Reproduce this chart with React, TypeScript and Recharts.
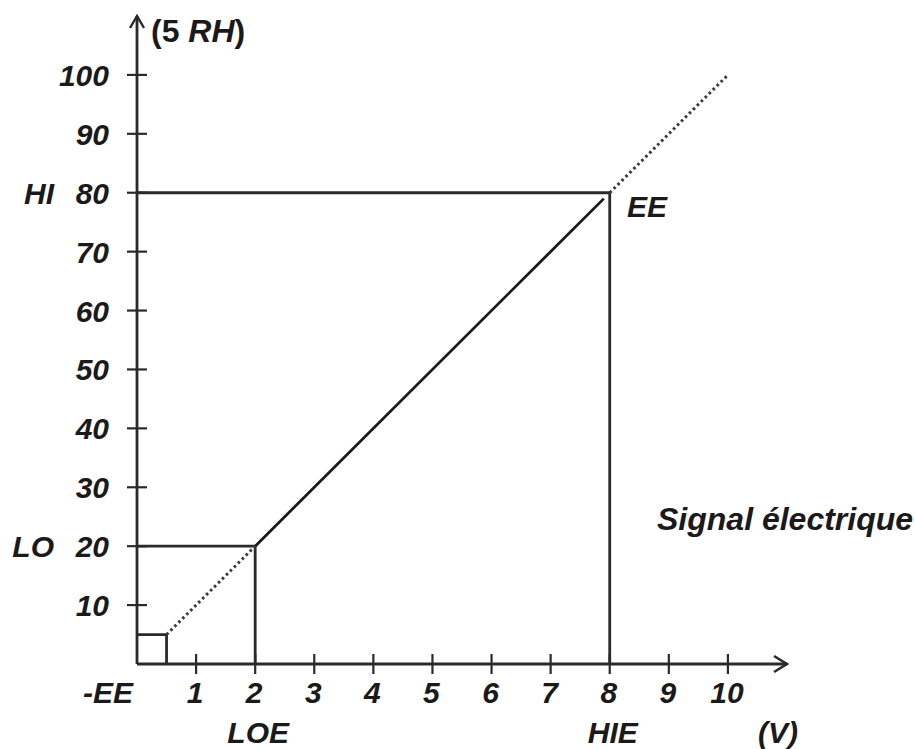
import React from 'react';
import { LineChart, Line, XAxis, YAxis } from 'recharts';

// ---- data ----
const xTicks = [0, 1, 2, 3, 4, 5, 6, 7, 8, 9, 10];
const xTickLabels = ['-EE', '1', '2', '3', '4', '5', '6', '7', '8', '9', '10'];
const xSubLabels: Record<number, string> = { 2: 'LOE', 8: 'HIE' };

const yTicks = [10, 20, 30, 40, 50, 60, 70, 80, 90, 100];
const yTickLabels = ['10', '20', '30', '40', '50', '60', '70', '80', '90', '100'];
const ySideLabels: Record<number, string> = { 20: 'LO', 80: 'HI' };

const solidRamp = [
  { x: 2, y: 20 },
  { x: 7.9, y: 79 },
];
const lowDotted = [
  { x: 0.5, y: 5 },
  { x: 2, y: 20 },
];
const highDotted = [
  { x: 8, y: 80 },
  { x: 10, y: 100 },
];
const boxPath = [
  { x: 0, y: 5 },
  { x: 0.5, y: 5 },
  { x: 0.5, y: 0 },
];
const hiGuide = [
  { x: 0, y: 80 },
  { x: 8, y: 80 },
  { x: 8, y: 0 },
];
const loGuide = [
  { x: 0, y: 20 },
  { x: 2, y: 20 },
  { x: 2, y: 0 },
];

const INK = '#1a1a1a';
const AXIS = '#2a2a2a';
const font = {
  fontFamily: '"Liberation Sans", Arial, sans-serif',
  fontWeight: 700,
  fontStyle: 'italic' as const,
  fontSize: 30,
  fill: INK,
};

function XTick(props: any) {
  const { x, y, payload } = props;
  const v = payload.value as number;
  const i = xTicks.indexOf(v);
  return (
    <g>
      {v !== 0 && (
        <line x1={x} x2={x} y1={y - 10} y2={y + 10} stroke={AXIS} strokeWidth={2.2} />
      )}
      <text
        x={v === 0 ? x - 4 : x - 1}
        y={y + 39}
        textAnchor={v === 0 ? 'end' : 'middle'}
        {...font}
      >
        {xTickLabels[i]}
      </text>
      {xSubLabels[v] && (
        <text x={x + 3} y={y + 79} textAnchor="middle" {...font}>
          {xSubLabels[v]}
        </text>
      )}
    </g>
  );
}

function YTick(props: any) {
  const { x, y, payload } = props;
  const v = payload.value as number;
  const i = yTicks.indexOf(v);
  return (
    <g>
      <line x1={x - 10} x2={x + 10} y1={y} y2={y} stroke={AXIS} strokeWidth={2.2} />
      <text x={x - 28} y={y + 11} textAnchor="end" {...font}>
        {yTickLabels[i]}
      </text>
      {ySideLabels[v] && (
        <text x={x - 83} y={y + 11} textAnchor="end" {...font}>
          {ySideLabels[v]}
        </text>
      )}
    </g>
  );
}

export default function App() {
  return (
    <div style={{ position: 'absolute', left: 0, top: 0, width: 915, height: 749, background: '#fff' }}>
      <LineChart
        width={915}
        height={749}
        margin={{ top: 16, right: 128, bottom: 84, left: 136 }}
      >
        <defs>
          <marker
            id="arrowEnd"
            markerUnits="userSpaceOnUse"
            markerWidth={18}
            markerHeight={22}
            viewBox="0 0 18 22"
            refX={16}
            refY={11}
            orient="auto"
          >
            <path d="M3,3 L16,11 L3,19" fill="none" stroke={AXIS} strokeWidth={2.6} />
          </marker>
          <marker
            id="arrowStart"
            markerUnits="userSpaceOnUse"
            markerWidth={18}
            markerHeight={22}
            viewBox="0 0 18 22"
            refX={16}
            refY={11}
            orient="auto-start-reverse"
          >
            <path d="M4,4 L16,11 L4,18" fill="none" stroke={AXIS} strokeWidth={2.4} />
          </marker>
        </defs>
        <XAxis
          type="number"
          dataKey="x"
          domain={[0, 11]}
          allowDataOverflow
          ticks={xTicks}
          interval={0}
          height={1}
          tickSize={0}
          tickMargin={0}
          tickLine={false}
          axisLine={{ stroke: AXIS, strokeWidth: 2.8, markerEnd: 'url(#arrowEnd)' }}
          tick={<XTick />}
        />
        <YAxis
          type="number"
          dataKey="y"
          domain={[0, 110]}
          allowDataOverflow
          ticks={yTicks}
          interval={0}
          width={1}
          tickSize={0}
          tickMargin={0}
          tickLine={false}
          axisLine={{ stroke: AXIS, strokeWidth: 2.8, markerStart: 'url(#arrowStart)' }}
          tick={<YTick />}
        />
        <Line data={hiGuide} dataKey="y" type="linear" stroke={AXIS} strokeWidth={2.8} dot={false} isAnimationActive={false} />
        <Line data={loGuide} dataKey="y" type="linear" stroke={AXIS} strokeWidth={2.8} dot={false} isAnimationActive={false} />
        <Line data={boxPath} dataKey="y" type="linear" stroke={AXIS} strokeWidth={2.8} dot={false} isAnimationActive={false} />
        <Line data={solidRamp} dataKey="y" type="linear" stroke={INK} strokeWidth={2.8} dot={false} isAnimationActive={false} />
        <Line data={lowDotted} dataKey="y" type="linear" stroke="#3a3a3a" strokeWidth={3} strokeDasharray="2.6 3" dot={false} isAnimationActive={false} />
        <Line data={highDotted} dataKey="y" type="linear" stroke="#3a3a3a" strokeWidth={3} strokeDasharray="2.6 3" dot={false} isAnimationActive={false} />
        <text x={151} y={42} {...font} fontSize={32}>
          <tspan fontStyle="normal">(5 </tspan>
          <tspan>RH</tspan>
          <tspan fontStyle="normal">)</tspan>
        </text>
        <text x={627} y={217} {...font}>EE</text>
        <text x={657} y={530} {...font} fontSize={32}>Signal électrique</text>
        <text x={758} y={743} {...font}>(V)</text>
      </LineChart>
    </div>
  );
}
